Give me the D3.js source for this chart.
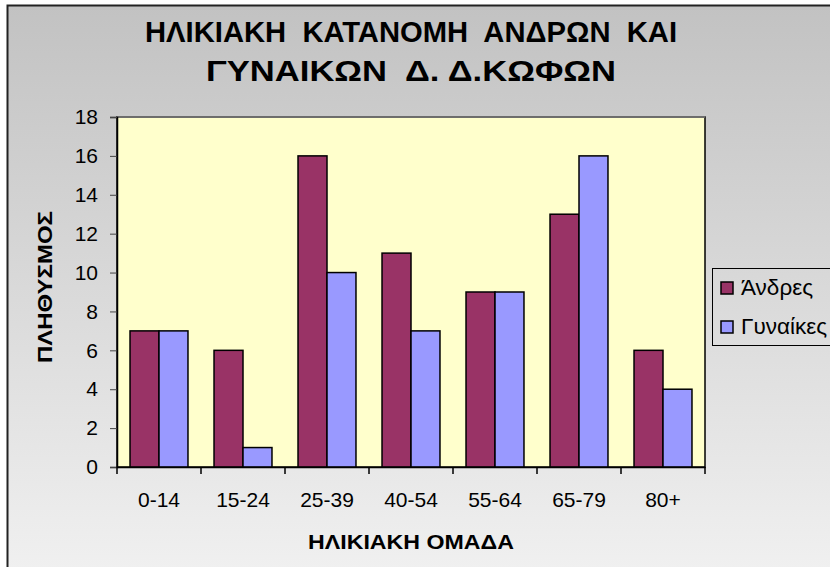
<!DOCTYPE html>
<html>
<head>
<meta charset="utf-8">
<script src="https://cdn.jsdelivr.net/npm/d3@7"></script>
<style>
  body { margin: 0; background: #fff; }
  svg text { font-family: 'Liberation Sans', Arial, sans-serif; }
</style>
</head>
<body>
<div id="container"></div>
<script>
const categories = ['0-14', '15-24', '25-39', '40-54', '55-64', '65-79', '80+'];
const series = ['Άνδρες', 'Γυναίκες'];
const andres = [7, 6, 16, 11, 9, 13, 6];
const gynaikes = [7, 1, 10, 7, 9, 16, 4];
const yTicks = [0, 2, 4, 6, 8, 10, 12, 14, 16, 18];
const colors = ['#993366', '#9999FF'];

const svgWidth = 830;
const svgHeight = 567;
const plot = { left: 117, right: 705, top: 117, bottom: 467 };

const svg = d3
  .select('#container')
  .append('svg')
  .attr('width', svgWidth)
  .attr('height', svgHeight);

// background gradient
const grad = svg
  .append('defs')
  .append('linearGradient')
  .attr('id', 'bg')
  .attr('x1', 0).attr('y1', 0).attr('x2', 0).attr('y2', 1);
grad.append('stop').attr('offset', '0%').attr('stop-color', '#c2c2c2');
grad.append('stop').attr('offset', '100%').attr('stop-color', '#f3f3f3');

svg
  .append('rect')
  .attr('x', 7.5)
  .attr('y', 5.5)
  .attr('width', 900)
  .attr('height', 600)
  .attr('fill', 'url(#bg)')
  .attr('stroke', '#222')
  .attr('stroke-width', 2);

// Title
const titleLines = [
  { text: 'ΗΛΙΚΙΑΚΗ  ΚΑΤΑΝΟΜΗ  ΑΝΔΡΩΝ  ΚΑΙ', y: 42, len: 532 },
  { text: 'ΓΥΝΑΙΚΩΝ  Δ. Δ.ΚΩΦΩΝ', y: 81, len: 410 }
];
svg
  .selectAll('.title')
  .data(titleLines)
  .enter()
  .append('text')
  .attr('class', 'title')
  .attr('x', 411)
  .attr('y', d => d.y)
  .attr('text-anchor', 'middle')
  .attr('font-size', 29)
  .attr('font-weight', 'bold')
  .attr('textLength', d => d.len)
  .attr('lengthAdjust', 'spacingAndGlyphs')
  .style('white-space', 'pre')
  .text(d => d.text);

// Scales
const x0 = d3.scaleBand().domain(categories).range([plot.left, plot.right]);
const bw = x0.bandwidth();
const x1 = d3.scaleBand().domain(series).range([bw * 0.155, bw * 0.845]);
const y = d3.scaleLinear().domain([0, 18]).range([plot.bottom, plot.top]);

// Plot area
svg
  .append('rect')
  .attr('x', plot.left)
  .attr('y', plot.top)
  .attr('width', plot.right - plot.left)
  .attr('height', plot.bottom - plot.top)
  .attr('fill', '#FFFFCC')
  .attr('stroke', '#000')
  .attr('stroke-width', 1.5);
svg
  .append('line')
  .attr('x1', plot.left).attr('x2', plot.right)
  .attr('y1', plot.top).attr('y2', plot.top)
  .attr('stroke', '#808080')
  .attr('stroke-width', 1.5);

// Bars
const rows = categories.map((c, i) => ({ cat: c, values: [andres[i], gynaikes[i]] }));
const groups = svg
  .selectAll('.group')
  .data(rows)
  .enter()
  .append('g')
  .attr('transform', d => `translate(${x0(d.cat)},0)`);
groups
  .selectAll('rect')
  .data(d => d.values.map((v, j) => ({ s: series[j], v, j })))
  .enter()
  .append('rect')
  .attr('x', d => x1(d.s))
  .attr('y', d => y(d.v))
  .attr('width', x1.bandwidth())
  .attr('height', d => plot.bottom - y(d.v))
  .attr('fill', d => colors[d.j])
  .attr('stroke', '#000')
  .attr('stroke-width', 1.5);

// Y axis
const yAxis = d3.axisLeft(y).tickValues(yTicks).tickSize(7).tickPadding(12);
const gy = svg.append('g').attr('transform', `translate(${plot.left},0)`).call(yAxis);
gy.attr('font-size', 21).attr('font-family', 'Liberation Sans, Arial, sans-serif');
gy.select('.domain').attr('stroke', '#000').attr('stroke-width', 1.5);
gy.selectAll('.tick line').attr('stroke', '#444');
gy.selectAll('.tick text').attr('fill', '#000');

// X axis with ticks between categories
const xAxis = d3.axisBottom(x0).tickSize(0).tickPadding(25);
const gx = svg.append('g').attr('transform', `translate(0,${plot.bottom})`).call(xAxis);
gx.attr('font-size', 21).attr('font-family', 'Liberation Sans, Arial, sans-serif');
gx.select('.domain').attr('stroke', '#000').attr('stroke-width', 1.5);
gx.selectAll('.tick text').attr('fill', '#000');
const edges = categories.map(c => x0(c)).concat([plot.right]);
gx.selectAll('.sep')
  .data(edges)
  .enter()
  .append('line')
  .attr('x1', d => d).attr('x2', d => d)
  .attr('y1', 0).attr('y2', 7)
  .attr('stroke', '#000')
  .attr('stroke-width', 1.5);

// Axis titles
svg
  .append('text')
  .attr('x', 411)
  .attr('y', 549)
  .attr('text-anchor', 'middle')
  .attr('font-size', 21)
  .attr('font-weight', 'bold')
  .attr('textLength', 206)
  .attr('lengthAdjust', 'spacingAndGlyphs')
  .text('ΗΛΙΚΙΑΚΗ ΟΜΑΔΑ');

svg
  .append('text')
  .attr('transform', 'translate(52,287) rotate(-90)')
  .attr('text-anchor', 'middle')
  .attr('font-size', 21)
  .attr('font-weight', 'bold')
  .attr('textLength', 152)
  .attr('lengthAdjust', 'spacingAndGlyphs')
  .text('ΠΛΗΘΥΣΜΟΣ');

// Legend
const legend = svg.append('g');
legend
  .append('rect')
  .attr('x', 712.5)
  .attr('y', 268.5)
  .attr('width', 200)
  .attr('height', 77)
  .attr('fill', 'none')
  .attr('stroke', '#000')
  .attr('stroke-width', 1);
const items = legend
  .selectAll('.item')
  .data(series)
  .enter()
  .append('g')
  .attr('transform', (d, i) => `translate(721,${282 + i * 39})`);
items
  .append('rect')
  .attr('width', 12)
  .attr('height', 12)
  .attr('fill', (d, i) => colors[i])
  .attr('stroke', '#000')
  .attr('stroke-width', 1.5);
items
  .append('text')
  .attr('x', 20)
  .attr('y', 13)
  .attr('font-size', 22.5)
  .text(d => d);
</script>
</body>
</html>
